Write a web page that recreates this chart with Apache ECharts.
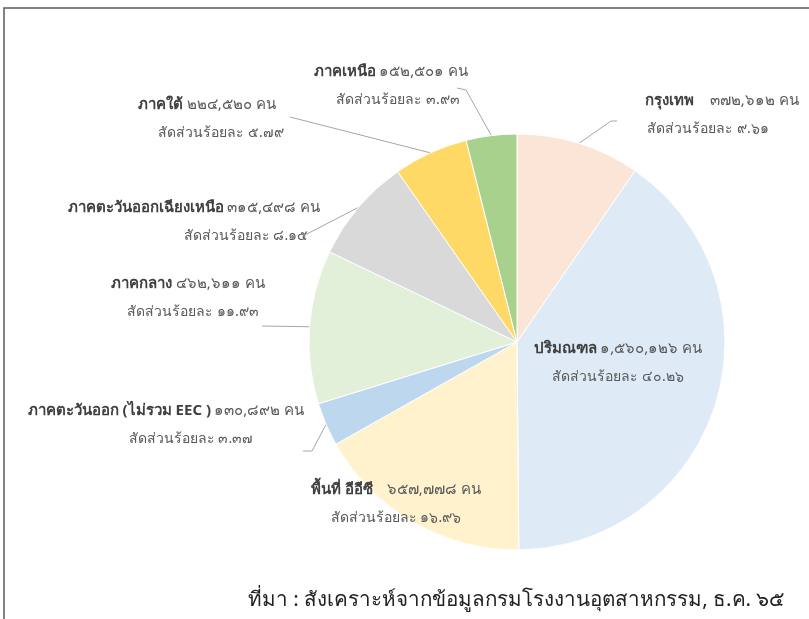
<!DOCTYPE html>
<html><head><meta charset="utf-8">
<script src="https://cdn.jsdelivr.net/npm/echarts@6/dist/echarts.min.js"></script>
<style>html,body{margin:0;padding:0;background:#fff}#c{width:809px;height:619px}</style>
</head><body><div id="c"></div>
<script>
// ---- data ----
const regions = ['กรุงเทพ', 'ปริมณฑล', 'พื้นที่ อีอีซี', 'ภาคตะวันออก (ไม่รวม EEC )', 'ภาคกลาง', 'ภาคตะวันออกเฉียงเหนือ', 'ภาคใต้', 'ภาคเหนือ'];
const workers = [372612, 1560126, 657778, 130892, 462611, 315498, 224520, 152501];
const shares = [9.61, 40.26, 16.96, 3.37, 11.93, 8.15, 5.79, 3.93];
const unitText = 'คน';
const shareText = 'สัดส่วนร้อยละ';
const sourceNote = 'ที่มา : สังเคราะห์จากข้อมูลกรมโรงงานอุตสาหกรรม, ธ.ค. ๖๕';

// ---- styles / layout ----
const colors = ['#FBE5D6', '#DEEBF7', '#FFF2CC', '#BDD7EE', '#E2F0D9', '#D9D9D9', '#FFD966', '#A9D18E'];
const labelCenter = [[722, 115], [618, 363], [396, 504], [166, 425], [188, 298], [194, 222], [207, 119], [391, 86]];
const line2Shift = [-14, 0, 0, 25, 5, 52, 14, 7];
const nameGap = [12, 0, 10, 0, 0, 0, 0, 0];
const lineEnds = [[[611, 121], [617, 121]], null, null, [[312, 451], [303, 451]], [[262, 326]], [[303, 236]], [[290, 117]], [[466, 90], [457, 88]]];
const FONT = '"Noto Sans", Tahoma, sans-serif';

const thaiDigits = '๐๑๒๓๔๕๖๗๘๙';
function toThai(s) { return String(s).replace(/[0-9]/g, d => thaiDigits[+d]); }
function fmtNum(n) { return toThai(n.toString().replace(/\B(?=(\d{3})+(?!\d))/g, ',')); }

const chart = echarts.init(document.getElementById('c'), null, { renderer: 'canvas' });

const data = regions.map((name, i) => {
  const sh = line2Shift[i];
  return {
    name: name,
    value: workers[i],
    itemStyle: { color: colors[i] },
    labelLine: { show: !!lineEnds[i] },
    label: {
      formatter: '{n|' + name + '} {v|' + fmtNum(workers[i]) + ' ' + unitText + '}\n{p|' + shareText + ' ' + toThai(shares[i].toFixed(2)) + '}',
      rich: {
        n: { fontFamily: FONT, fontSize: 15, fontWeight: 'bold', color: '#404040', align: 'center', lineHeight: 29 },
        v: { fontFamily: FONT, fontSize: 15, color: '#595959', align: 'center', lineHeight: 29, padding: [0, 0, 0, nameGap[i]] },
        p: { fontFamily: FONT, fontSize: 14, color: '#595959', align: 'center', lineHeight: 29,
             padding: sh >= 0 ? [0, 0, 0, 2 * sh] : [0, -2 * sh, 0, 0] }
      }
    }
  };
});

chart.setOption({
  animation: false,
  backgroundColor: '#ffffff',
  graphic: [
    { type: 'polyline', shape: { points: [[4, 619], [4, 8], [809, 8]] }, style: { stroke: '#595959', lineWidth: 1.5, fill: null } },
    { type: 'text', left: 248, top: 590, style: { text: sourceNote, font: '20.6px ' + FONT, fill: '#222222' } }
  ],
  series: [{
    type: 'pie',
    center: [517, 342],
    radius: 208,
    startAngle: 90,
    clockwise: true,
    avoidLabelOverlap: false,
    itemStyle: { borderColor: '#ffffff', borderWidth: 1 },
    label: { show: true, position: 'outside' },
    labelLine: { lineStyle: { color: '#A6A6A6', width: 1 }, length: 10, length2: 10 },
    labelLayout: function (params) {
      const i = params.dataIndex;
      const res = { x: labelCenter[i][0], y: labelCenter[i][1], align: 'center', verticalAlign: 'middle' };
      if (lineEnds[i] && params.labelLinePoints) {
        res.labelLinePoints = [params.labelLinePoints[0]].concat(lineEnds[i]);
      }
      return res;
    },
    data: data
  }]
});
</script>
</body></html>
